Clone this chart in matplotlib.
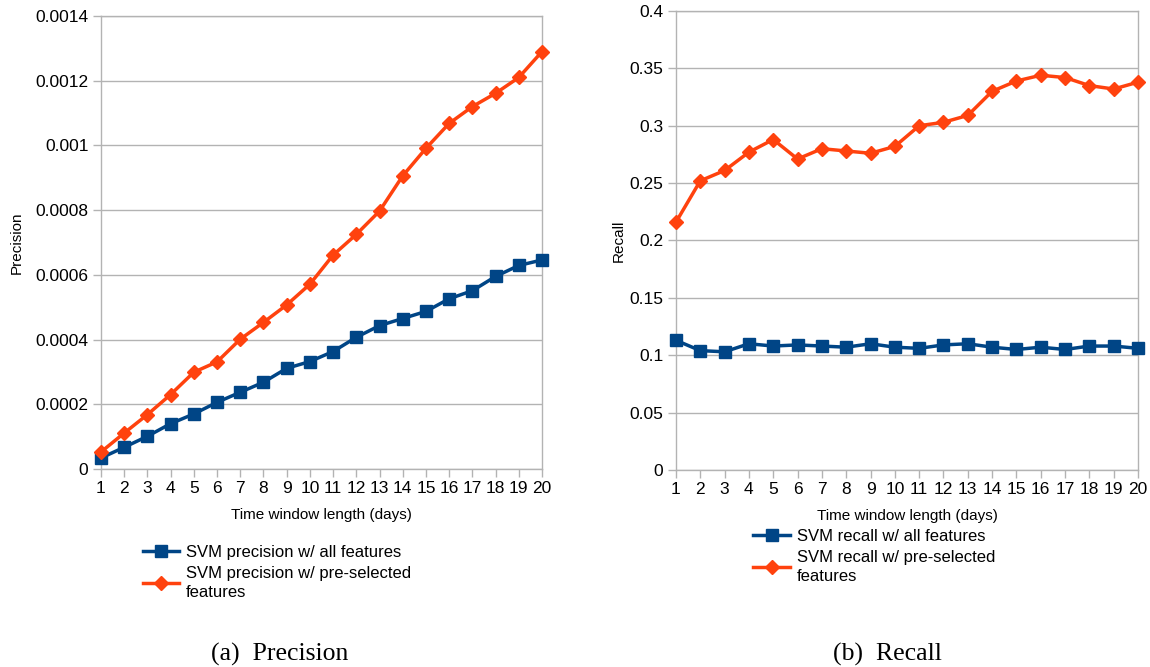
import matplotlib.pyplot as plt
import numpy as np

plt.rcParams['font.family'] = ['Liberation Sans', 'DejaVu Sans']

days = list(range(1, 21))

prec_all = [0.000034, 0.000067, 0.000101, 0.000140, 0.000170, 0.000206, 0.000237,
            0.000268, 0.000311, 0.000332, 0.000363, 0.000407, 0.000443, 0.000465,
            0.000487, 0.000526, 0.000551, 0.000595, 0.000629, 0.000646]
prec_sel = [0.0000525, 0.000111, 0.000168, 0.000230, 0.000299, 0.000331, 0.000401,
            0.000453, 0.000507, 0.000571, 0.000661, 0.000725, 0.000797, 0.000906,
            0.000991, 0.001068, 0.001120, 0.001161, 0.001210, 0.001290]

rec_all = [0.113, 0.104, 0.103, 0.110, 0.108, 0.109, 0.108, 0.107, 0.110, 0.107,
           0.106, 0.109, 0.110, 0.107, 0.105, 0.107, 0.105, 0.108, 0.108, 0.106]
rec_sel = [0.216, 0.252, 0.261, 0.277, 0.288, 0.271, 0.280, 0.278, 0.276, 0.282,
           0.300, 0.303, 0.309, 0.330, 0.339, 0.344, 0.342, 0.335, 0.332, 0.338]

prec_ticks = [0, 0.0002, 0.0004, 0.0006, 0.0008, 0.001, 0.0012, 0.0014]
prec_labels = ['0', '0.0002', '0.0004', '0.0006', '0.0008', '0.001', '0.0012', '0.0014']
rec_ticks = [0, 0.05, 0.1, 0.15, 0.2, 0.25, 0.3, 0.35, 0.4]
rec_labels = ['0', '0.05', '0.1', '0.15', '0.2', '0.25', '0.3', '0.35', '0.4']

BLUE = '#004586'
ORANGE = '#ff420e'
GRID = '#b3b3b3'

fig = plt.figure(figsize=(11.5, 6.67), dpi=100)
ax1 = fig.add_axes([0.0878, 0.2969, 0.3835, 0.6791])
ax2 = fig.add_axes([0.5878, 0.2954, 0.4018, 0.6881])


def style(ax, ticks, labels, ylabel, ypad):
    ax.set_xlim(1, 20)
    ax.set_ylim(ticks[0], ticks[-1])
    ax.set_xticks(days)
    ax.set_yticks(ticks)
    ax.set_yticklabels(labels)
    ax.grid(axis='y', color=GRID, linewidth=1)
    ax.set_axisbelow(True)
    for s in ax.spines.values():
        s.set_color(GRID)
        s.set_linewidth(1)
    ax.tick_params(axis='both', colors=GRID, labelcolor='black', labelsize=12.5,
                   length=6, width=1, pad=3)
    ax.set_xlabel('Time window length (days)', fontsize=11, labelpad=8)
    ax.set_ylabel(ylabel, fontsize=11, labelpad=ypad)


ax1.plot(days, prec_all, color=BLUE, lw=2.5, marker='s', ms=9, clip_on=False,
         zorder=3, label='SVM precision w/ all features')
ax1.plot(days, prec_sel, color=ORANGE, lw=2.5, marker='D', ms=7, clip_on=False,
         zorder=4, label='SVM precision w/ pre-selected\nfeatures')
style(ax1, prec_ticks, prec_labels, 'Precision', 8)

ax2.plot(days, rec_all, color=BLUE, lw=2.5, marker='s', ms=9, clip_on=False,
         zorder=3, label='SVM recall w/ all features')
ax2.plot(days, rec_sel, color=ORANGE, lw=2.5, marker='D', ms=7, clip_on=False,
         zorder=4, label='SVM recall w/ pre-selected\nfeatures')
style(ax2, rec_ticks, rec_labels, 'Recall', 3)

for ax, pos in [(ax1, (0.124, 0.1825)), (ax2, (0.655, 0.2065))]:
    h, l = ax.get_legend_handles_labels()
    leg = fig.legend(h, l, loc='upper left', bbox_to_anchor=pos, frameon=False,
                     fontsize=12, handlelength=2.2, handletextpad=0.4,
                     labelspacing=0.35, borderpad=0, borderaxespad=0)
    for t in leg.get_texts():
        t.set_linespacing(1.35)

fig.text(0.2435, 0.0195, '(a)  Precision', ha='center', va='center',
         family='Liberation Serif', fontsize=18.5)
fig.text(0.772, 0.0195, '(b)  Recall', ha='center', va='center',
         family='Liberation Serif', fontsize=18.5)

fig.savefig('out.png', dpi=100)
